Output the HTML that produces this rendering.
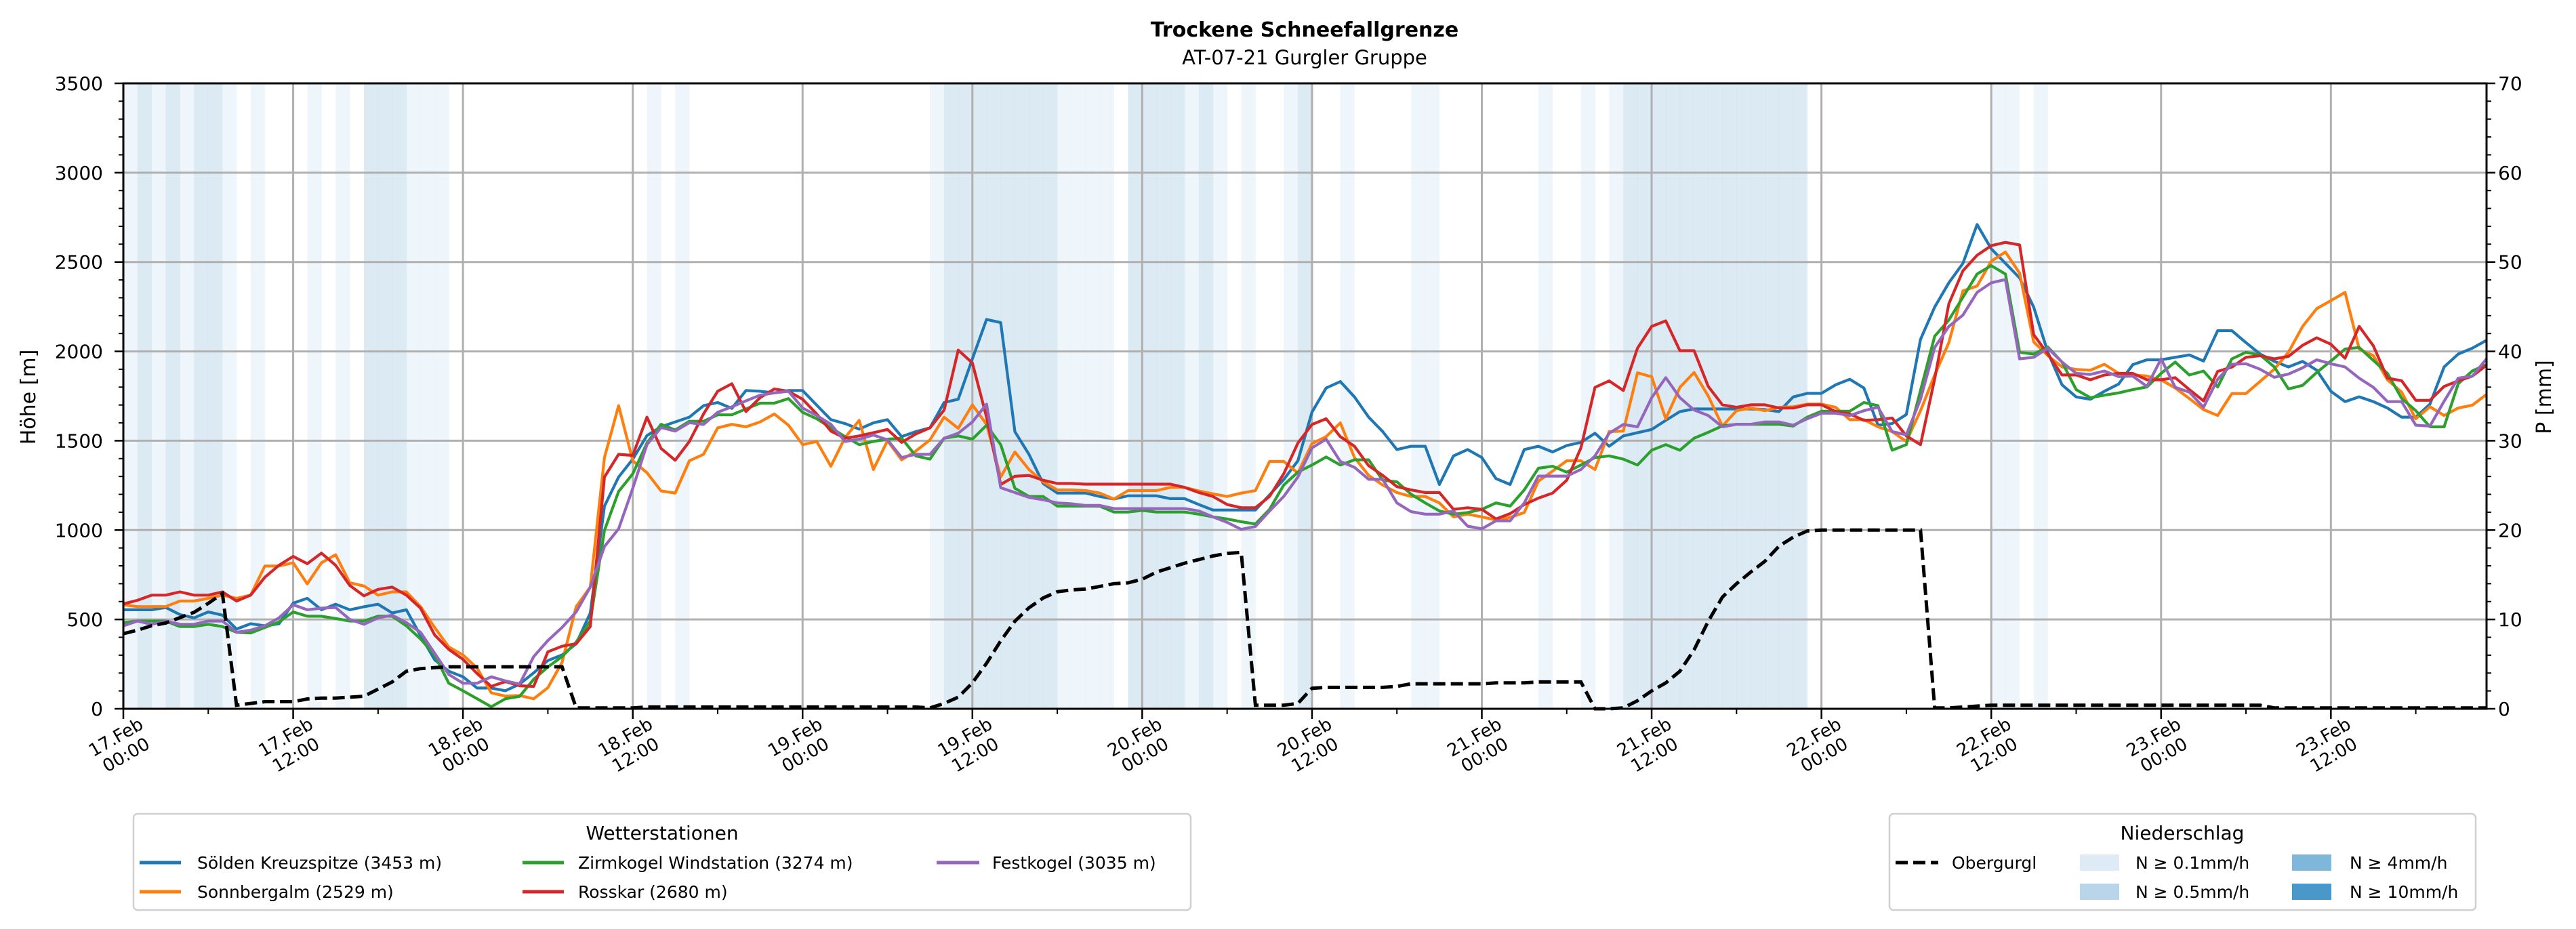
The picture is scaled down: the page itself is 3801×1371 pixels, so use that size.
<!DOCTYPE html>
<html><head><meta charset="utf-8"><style>
html,body{margin:0;padding:0;background:#fff;}
svg{display:block;font-family:"DejaVu Sans","Liberation Sans",sans-serif;}
</style></head><body>
<svg id="chart" xmlns="http://www.w3.org/2000/svg" width="3801" height="1371" viewBox="0 0 3801 1371">
<g id="bands"></g>
<g id="grid"></g>
<g id="series"></g>
<g id="axes"></g>
<text x="1925" y="54" text-anchor="middle" font-size="30" font-weight="bold">Trockene Schneefallgrenze</text>
<text x="1925" y="95" text-anchor="middle" font-size="29">AT-07-21 Gurgler Gruppe</text>
<text transform="translate(52,586) rotate(-90)" text-anchor="middle" font-size="30">Höhe [m]</text>
<text transform="translate(3764,586) rotate(-90)" text-anchor="middle" font-size="30">P [mm]</text>

<g>
<rect x="197" y="1201" width="1560" height="142" rx="6" fill="#fff" stroke="#d0d0d0" stroke-width="2.5"/>
<text x="977" y="1239" text-anchor="middle" font-size="28">Wetterstationen</text>
<line x1="206" y1="1273" x2="267" y2="1273" stroke="#1f77b4" stroke-width="5"/>
<text x="291" y="1282" font-size="25">Sölden Kreuzspitze (3453 m)</text>
<line x1="206" y1="1316" x2="267" y2="1316" stroke="#ff7f0e" stroke-width="5"/>
<text x="291" y="1325" font-size="25">Sonnbergalm (2529 m)</text>
<line x1="771" y1="1273" x2="832" y2="1273" stroke="#2ca02c" stroke-width="5"/>
<text x="853" y="1282" font-size="25">Zirmkogel Windstation (3274 m)</text>
<line x1="771" y1="1316" x2="832" y2="1316" stroke="#d62728" stroke-width="5"/>
<text x="853" y="1325" font-size="25">Rosskar (2680 m)</text>
<line x1="1382" y1="1273" x2="1445" y2="1273" stroke="#9467bd" stroke-width="5"/>
<text x="1464" y="1282" font-size="25">Festkogel (3035 m)</text>
</g>

<g>
<rect x="2788" y="1201" width="865" height="142" rx="6" fill="#fff" stroke="#d0d0d0" stroke-width="2.5"/>
<text x="3220" y="1239" text-anchor="middle" font-size="28">Niederschlag</text>
<line x1="2797" y1="1273" x2="2860" y2="1273" stroke="#000" stroke-width="5" stroke-dasharray="18,8"/>
<text x="2880" y="1282" font-size="25">Obergurgl</text>
<rect x="3069" y="1261" width="58" height="24" fill="#deebf7"/>
<text x="3151" y="1282" font-size="25">N ≥ 0.1mm/h</text>
<rect x="3069" y="1304" width="58" height="24" fill="#b9d5ea"/>
<text x="3151" y="1325" font-size="25">N ≥ 0.5mm/h</text>
<rect x="3382" y="1261" width="58" height="24" fill="#7fb7db"/>
<text x="3467" y="1282" font-size="25">N ≥ 4mm/h</text>
<rect x="3382" y="1304" width="58" height="24" fill="#4a97c9"/>
<text x="3467" y="1325" font-size="25">N ≥ 10mm/h</text>
</g>
</svg>
<script>
const soelden=[554,554,554,567,527,509,542,524,446,476,464,476,591,618,554,585,554,571,585,536,554,409,274,210,179,116,116,101,138,201,270,301,364,536,1134,
1297,1397,1529,1578,1605,1632,1696,1714,1681,1781,1777,1768,1781,1781,1699,1618,1596,1565,1600,1618,1523,1551,1572,1714,1732,1958,2179,2161,1551,1424,1261,1207,1207,
1207,1188,1174,1192,1192,1192,1176,1176,1143,1112,1112,1112,1112,1197,1283,1388,1660,1795,1831,1745,1632,1551,1451,1469,1469,1255,1415,1451,1406,1288,1255,1451,1469,1437,
1473,1491,1542,1469,1527,1545,1563,1614,1663,1678,1678,1678,1678,1678,1674,1663,1745,1765,1765,1813,1844,1795,1587,1596,1647,2067,2248,2384,2493,2710,2574,2493,2411,
2248,1995,1813,1745,1732,1777,1817,1926,1953,1953,1967,1980,1946,2116,2116,2049,1985,1944,1913,1944,1895,1777,1719,1746,1719,1683,1632,1632,1705,1913,1985,2018,2062];
const sonnbergalm=[582,572,572,572,603,603,618,636,618,636,799,799,817,699,817,862,705,687,636,654,654,572,455,346,301,228,89,71,74,56,118,259,572,681,1406,
1696,1388,1321,1219,1207,1388,1424,1572,1592,1578,1605,1650,1587,1478,1496,1357,1518,1614,1339,1500,1393,1442,1505,1632,1569,1701,1591,1297,1437,1339,1270,1225,1225,
1221,1207,1174,1221,1221,1221,1239,1239,1219,1203,1188,1207,1221,1384,1384,1319,1484,1523,1600,1406,1306,1252,1210,1188,1188,1152,1074,1089,1074,1056,1071,1098,1274,1330,
1388,1388,1339,1551,1554,1880,1858,1623,1799,1882,1750,1582,1668,1683,1668,1687,1690,1705,1705,1687,1618,1618,1578,1551,1496,1668,1868,2049,2339,2366,2505,2556,2438,
2053,1976,1913,1899,1895,1928,1877,1868,1862,1841,1795,1736,1674,1641,1764,1764,1832,1900,1995,2140,2239,2284,2330,2013,1976,1841,1772,1623,1690,1641,1683,1699,1759];
const zirmkogel=[482,491,491,491,460,460,473,460,428,424,455,486,542,518,518,505,491,491,518,518,464,391,301,143,101,56,11,56,69,165,234,292,373,491,998,
1216,1315,1487,1592,1560,1609,1609,1645,1645,1678,1710,1710,1736,1659,1623,1572,1523,1478,1496,1509,1514,1415,1397,1514,1527,1509,1587,1478,1234,1188,1188,1134,1134,
1134,1134,1101,1101,1110,1101,1101,1101,1089,1074,1062,1047,1034,1116,1252,1324,1364,1409,1364,1393,1393,1279,1270,1201,1152,1107,1089,1098,1116,1152,1134,1225,1346,1357,
1324,1364,1406,1415,1397,1364,1447,1478,1447,1514,1547,1583,1592,1592,1592,1592,1582,1632,1665,1665,1665,1714,1696,1447,1478,1781,2085,2176,2303,2433,2480,2433,1995,
1985,2025,1940,1786,1741,1755,1768,1786,1801,1877,1940,1868,1890,1801,1958,1995,1980,1913,1790,1810,1882,1946,2013,2022,1949,1877,1737,1668,1578,1578,1819,1891,1926];
const rosskar=[587,607,636,636,654,636,636,654,603,636,736,803,853,812,871,803,690,632,668,681,636,563,413,332,277,197,125,152,129,125,319,350,364,460,1297,
1424,1418,1632,1457,1391,1496,1650,1777,1819,1663,1741,1790,1777,1732,1650,1554,1514,1527,1545,1563,1491,1538,1572,1672,2007,1935,1632,1255,1301,1306,1279,1261,1261,
1257,1257,1257,1257,1257,1257,1257,1239,1210,1188,1143,1125,1125,1188,1315,1487,1591,1623,1523,1469,1360,1306,1243,1225,1210,1210,1116,1125,1116,1062,1092,1143,1179,1207,
1279,1460,1799,1835,1781,2018,2140,2171,2004,2004,1804,1701,1687,1701,1701,1683,1683,1701,1701,1663,1650,1614,1618,1627,1527,1478,1846,2266,2451,2538,2592,2610,2596,
2094,1985,1868,1868,1841,1868,1877,1877,1841,1841,1853,1786,1723,1888,1912,1967,1976,1958,1972,2034,2076,2040,1962,2140,2031,1850,1836,1726,1726,1804,1835,1862,1922];
const festkogel=[464,491,473,491,473,473,491,491,428,440,464,509,582,554,563,567,500,473,509,524,482,428,310,192,143,143,179,156,138,292,382,455,542,681,908,
1007,1234,1478,1574,1554,1601,1591,1659,1690,1723,1755,1768,1777,1683,1641,1592,1496,1509,1532,1505,1406,1424,1424,1514,1542,1605,1705,1237,1210,1183,1170,1152,1147,
1138,1138,1120,1120,1120,1120,1120,1120,1107,1074,1043,1004,1020,1107,1188,1297,1460,1509,1384,1351,1284,1284,1152,1103,1089,1089,1107,1022,1007,1052,1052,1152,1302,1302,
1302,1339,1415,1542,1591,1578,1741,1853,1741,1672,1641,1578,1592,1592,1605,1605,1587,1623,1654,1654,1641,1668,1687,1551,1533,1732,2022,2140,2203,2330,2384,2402,1958,
1967,2018,1940,1877,1871,1890,1859,1862,1804,1958,1799,1772,1687,1844,1928,1931,1900,1855,1873,1908,1953,1931,1913,1850,1799,1719,1719,1587,1582,1721,1850,1862,1958];
const obergurgl=[8.4,8.8,9.3,9.6,10.2,10.8,11.8,12.9,
0.4,0.6,0.8,0.8,0.8,1.1,1.2,1.2,1.3,1.4,
2.2,3.0,4.2,4.5,4.6,4.7,4.7,4.7,4.7,4.7,4.7,4.7,4.7,4.7,
0.1,0.1,0.1,0.1,0.1,
0.2,0.2,0.2,0.2,0.2,0.2,0.2,0.2,0.2,0.2,0.2,0.2,0.2,0.2,0.2,0.2,0.2,0.2,0.2,0.2,
0.1,0.6,1.3,2.9,5.1,7.6,9.8,11.3,12.4,13.1,13.3,13.4,13.7,14.0,14.1,14.5,15.3,15.8,16.3,16.7,17.1,17.4,17.5,
0.4,0.4,0.4,0.6,2.3,2.4,2.4,2.4,2.4,2.4,2.5,2.8,2.8,2.8,2.8,2.8,2.8,2.9,2.9,2.9,3.0,3.0,3.0,3.0,
0,0,0.1,0.9,2.0,2.9,4.2,6.6,9.8,12.5,14.0,15.3,16.5,18.2,19.2,19.9,20,20,20,20,20,20,20,20,
0.1,0.1,0.2,0.3,0.4,0.4,
0.4,0.4,0.4,0.4,0.4,0.4,0.4,0.4,0.4,0.4,0.4,0.4,0.4,0.4,0.4,0.4,0.4,0.4,
0.1,0.1,0.1,0.1,0.1,0.1,0.1,0.1,0.1,0.1,0.1,0.1,0.1,0.1,0.1,0.1];
const precipClass=[1,2,1,2,1,2,2,1,0,1,0,0,0,1,0,1,0,2,2,2,1,1,1,
0,0,0,0,0,0,0,0,0,0,0,0,0,0,
1,0,1,
0,0,0,0,0,0,0,0,0,0,0,0,0,0,0,0,0,
1,
2,2,2,2,2,2,2,2,
1,1,1,1,
0,
2,2,2,2,
1,2,1,0,1,0,0,1,2,0,0,1,
0,0,0,0,
1,1,
0,0,0,0,0,0,0,
1,0,0,1,0,1,
2,2,2,2,2,2,2,2,2,2,2,2,2,
0,0,0,0,0,0,0,0,0,0,0,0,0,
1,1,0,1,
0,0,0,0,0,0,0,0,0,0,0,0,0,0,0,0,0,0,0,0,0,0,0,0,0,0,0,0,0,0,0];
const xTickDates=["17.Feb","17.Feb","18.Feb","18.Feb","19.Feb","19.Feb","20.Feb","20.Feb","21.Feb","21.Feb","22.Feb","22.Feb","23.Feb","23.Feb"];
const xTickTimes=["00:00","12:00","00:00","12:00","00:00","12:00","00:00","12:00","00:00","12:00","00:00","12:00","00:00","12:00"];
const yTicks=[0,500,1000,1500,2000,2500,3000,3500];
const pTicks=[0,10,20,30,40,50,60,70];

const NS="http://www.w3.org/2000/svg";
const L=182,R=3669,T=123,B=1046,HMAX=167,YMAX=3500,PMAX=70;
function X(h){return L+h*(R-L)/HMAX;}
function Y(v){return B-v*(B-T)/YMAX;}
function YP(v){return B-v*(B-T)/PMAX;}
function mk(tag,attrs,parent){const e=document.createElementNS(NS,tag);for(const k in attrs)e.setAttribute(k,attrs[k]);parent.appendChild(e);return e;}
const gB=document.getElementById('bands'),gG=document.getElementById('grid'),gS=document.getElementById('series'),gA=document.getElementById('axes');
const bandColors=['none','#deebf7','#b9d5ea','#7fb7db','#4a97c9'];
precipClass.forEach((c,i)=>{if(!c)return;
 const r=mk('rect',{x:X(i),y:T,width:X(i+1)-X(i)+0.3,height:B-T,fill:bandColors[c],'fill-opacity':0.5},gB);
 
 
});
yTicks.forEach(v=>{
 const l=mk('line',{x1:L,x2:R,y1:Y(v),y2:Y(v),stroke:'#b0b0b0','stroke-width':3},gG);
 
 
});
xTickDates.forEach((d,i)=>{
 const l=mk('line',{x1:X(i*12),x2:X(i*12),y1:T,y2:B,stroke:'#b0b0b0','stroke-width':3},gG);
 
 
});
const series=[[soelden,'#1f77b4','soelden-line'],[sonnbergalm,'#ff7f0e','sonnbergalm-line'],[zirmkogel,'#2ca02c','zirmkogel-line'],[rosskar,'#d62728','rosskar-line'],[festkogel,'#9467bd','festkogel-line']];
series.forEach(([arr,col,name])=>{
 const p=mk('polyline',{points:arr.map((v,i)=>X(i).toFixed(1)+','+Y(v).toFixed(1)).join(' '),fill:'none',stroke:col,'stroke-width':4.2,'stroke-linejoin':'round'},gS);
 
 
});
const dp=mk('polyline',{points:obergurgl.map((v,i)=>X(i).toFixed(1)+','+YP(v).toFixed(1)).join(' '),fill:'none',stroke:'#000','stroke-width':5,'stroke-dasharray':'18,8'},gS);


const fr=mk('rect',{x:L,y:T,width:R-L,height:B-T,fill:'none',stroke:'#000','stroke-width':3},gA);


for(let v=0;v<=YMAX;v+=100){const maj=v%500===0;
 const t=mk('line',{x1:L-(maj?13:7),x2:L,y1:Y(v),y2:Y(v),stroke:'#000','stroke-width':maj?2.5:2},gA);
 
 
}
yTicks.forEach(v=>{
 const t=mk('text',{x:152,y:Y(v)+10,'text-anchor':'end','font-size':28},gA);t.textContent=v;
 
 
});
for(let v=0;v<=PMAX;v+=2){const maj=v%10===0;
 const t=mk('line',{x1:R,x2:R+(maj?13:7),y1:YP(v),y2:YP(v),stroke:'#000','stroke-width':maj?2.5:2},gA);
 
 
}
pTicks.forEach(v=>{
 const t=mk('text',{x:3686,y:YP(v)+10,'text-anchor':'start','font-size':28},gA);t.textContent=v;
 
 
});
for(let h=0;h<=HMAX;h+=6){const maj=h%12===0;
 const t=mk('line',{x1:X(h),x2:X(h),y1:B,y2:B+(maj?15:8),stroke:'#000','stroke-width':maj?2.5:2},gA);
 
 
}
xTickDates.forEach((d,i)=>{
 const g=mk('g',{transform:'translate('+(X(i*12)-4)+',1100) rotate(-30)'},gA);
 
 
 const a=mk('text',{x:0,y:-5,'text-anchor':'middle','font-size':26},g);a.textContent=d;
 
 
 const b=mk('text',{x:0,y:25,'text-anchor':'middle','font-size':26},g);b.textContent=xTickTimes[i];
 
 
});
</script>
</body></html>
